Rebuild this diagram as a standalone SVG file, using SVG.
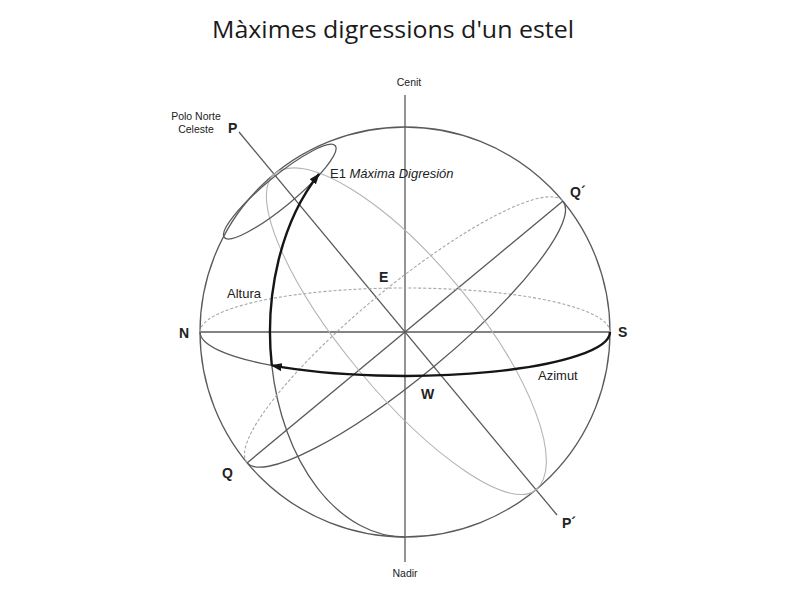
<svg xmlns="http://www.w3.org/2000/svg" width="800" height="600" viewBox="0 0 800 600">
<defs>
<style>
.dk{fill:none;stroke:#5a5a5a;stroke-width:1.3}
.lt{fill:none;stroke:#b4b4b4;stroke-width:1.1}
.ds{fill:none;stroke:#a6a6a6;stroke-width:1.1;stroke-dasharray:3 2}
.th{fill:none;stroke:#151515;stroke-width:2.4}
.lbl{font-family:"Liberation Sans",Arial,sans-serif;fill:#222}
.big{font-size:14px;font-weight:bold}
.sm{font-size:10.5px}
.md{font-size:13px}
</style>
<marker id="ah" markerUnits="userSpaceOnUse" markerWidth="11" markerHeight="8" viewBox="0 0 11 8" refX="10" refY="4" orient="auto"><path d="M0,0 L11,4 L0,8 z" fill="#151515"/></marker>
</defs>
<rect width="800" height="600" fill="#ffffff"/>
<text x="212" y="38" font-family="'Open Sans','Noto Sans',sans-serif" font-size="23" textLength="362" lengthAdjust="spacingAndGlyphs" fill="#1a1a1a">Màximes digressions d'un estel</text>

<g id="sphere">
<circle cx="405" cy="332" r="205" class="dk"/>
<line x1="405" y1="95" x2="405" y2="562" class="dk"/>
<line x1="200" y1="332" x2="610" y2="332" class="dk"/>
<line x1="239" y1="132" x2="557" y2="515" class="dk"/>
<line x1="247" y1="463" x2="563" y2="201" class="dk"/>
<path d="M200 332 A205 44 0 0 1 610 332" class="ds"/>
<path d="M271.8 365.4 A205 44 0 0 1 200 332" class="dk"/>
<path d="M271.8 365.4 A135 205 0 0 0 405 537" class="dk"/>
<g transform="translate(405 332) rotate(-39.6)">
<path d="M-205 0 A205 45 0 0 1 205 0" class="ds"/>
<path d="M-205 0 A205 45 0 0 0 205 0" class="dk"/>
<path d="M0 -205 A70 205 0 0 1 0 205 A60 205 0 0 1 0 -205" class="lt"/>
<ellipse cx="-7" cy="-188" rx="72" ry="15" class="dk"/>
</g>
</g>

<g id="connectors">
<path d="M610 332 A205 44 0 0 1 271.8 365.4" class="th" marker-end="url(#ah)"/>
<path d="M271.8 365.4 A135 205 0 0 1 319 174" class="th" marker-end="url(#ah)"/>
</g>

<g id="labels" class="lbl">
<text class="sm" x="409" y="86" text-anchor="middle">Cenit</text>
<text class="sm" x="405" y="577" text-anchor="middle">Nadir</text>
<text class="sm" x="196" y="120" text-anchor="middle">Polo Norte</text>
<text class="sm" x="196" y="133" text-anchor="middle">Celeste</text>
<text class="big" x="228" y="133">P</text>
<text class="big" x="570" y="197">Q´</text>
<text class="big" x="379" y="282">E</text>
<text class="big" x="179" y="338">N</text>
<text class="big" x="618" y="337">S</text>
<text class="big" x="421" y="399">W</text>
<text class="big" x="222" y="478">Q</text>
<text class="big" x="562" y="528">P´</text>
<text class="md" x="330" y="178">E1 <tspan font-style="italic">Máxima Digresión</tspan></text>
<text class="md" x="227" y="298">Altura</text>
<text class="md" x="538" y="380">Azimut</text>
</g>
</svg>
